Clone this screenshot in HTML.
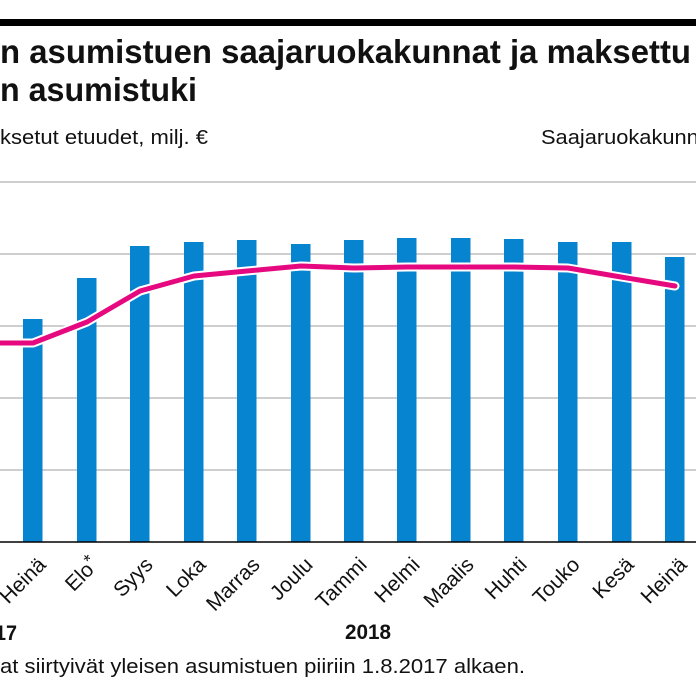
<!DOCTYPE html>
<html><head><meta charset="utf-8">
<style>
html,body{margin:0;padding:0;background:#fff;}
svg{display:block;}
text{font-family:"Liberation Sans","DejaVu Sans",sans-serif;fill:#111;}
</style></head>
<body>
<svg width="696" height="696" viewBox="0 0 696 696" xmlns="http://www.w3.org/2000/svg">
<rect x="0" y="0" width="696" height="696" fill="#fff"/>
<rect x="0" y="19" width="696" height="7" fill="#000"/>
<text x="0" y="63" font-size="33" font-weight="bold" textLength="691" lengthAdjust="spacingAndGlyphs">n asumistuen saajaruokakunnat ja maksettu</text>
<text x="0" y="101" font-size="33" font-weight="bold" textLength="197" lengthAdjust="spacingAndGlyphs">n asumistuki</text>
<text x="0" y="144" font-size="20" textLength="208" lengthAdjust="spacingAndGlyphs">ksetut etuudet, milj. €</text>
<text x="541" y="144" font-size="20" textLength="176" lengthAdjust="spacingAndGlyphs">Saajaruokakunnat</text>

<g stroke="#bdbdbd" stroke-width="1.5">
<line x1="0" y1="182" x2="696" y2="182"/>
<line x1="0" y1="254" x2="696" y2="254"/>
<line x1="0" y1="326" x2="696" y2="326"/>
<line x1="0" y1="398" x2="696" y2="398"/>
<line x1="0" y1="470" x2="696" y2="470"/>
</g>

<g fill="#0784d0">
<rect x="23" y="319" width="19.5" height="223"/>
<rect x="77" y="278" width="19.5" height="264"/>
<rect x="130" y="246" width="19.5" height="296"/>
<rect x="184" y="242" width="19.5" height="300"/>
<rect x="237" y="240" width="19.5" height="302"/>
<rect x="291" y="244" width="19.5" height="298"/>
<rect x="344" y="240" width="19.5" height="302"/>
<rect x="397" y="238" width="19.5" height="304"/>
<rect x="451" y="238" width="19.5" height="304"/>
<rect x="504" y="239" width="19.5" height="303"/>
<rect x="558" y="242" width="19.5" height="300"/>
<rect x="612" y="242" width="19.5" height="300"/>
<rect x="665" y="257" width="19.5" height="285"/>
</g>

<line x1="0" y1="542" x2="696" y2="542" stroke="#000" stroke-width="1.6"/>

<polyline points="-30,343 33,343 87,322 140,291 194,276 247,271 301,266 354,268 407,267 461,267 514,267 568,268 621,277 675,286" fill="none" stroke="#fff" stroke-width="9" stroke-linejoin="round" stroke-linecap="round"/>
<polyline points="-30,343 33,343 87,322 140,291 194,276 247,271 301,266 354,268 407,267 461,267 514,267 568,268 621,277 675,286" fill="none" stroke="#e5087f" stroke-width="5" stroke-linejoin="round" stroke-linecap="round"/>

<g font-size="21" text-anchor="end">
<text transform="translate(47,566) rotate(-45)">Heinä</text>
<text transform="translate(100,566) rotate(-45)">Elo<tspan dy="-6" font-size="18">*</tspan></text>
<text transform="translate(154,566) rotate(-45)">Syys</text>
<text transform="translate(207,566) rotate(-45)">Loka</text>
<text transform="translate(261,566) rotate(-45)">Marras</text>
<text transform="translate(314,566) rotate(-45)">Joulu</text>
<text transform="translate(368,566) rotate(-45)">Tammi</text>
<text transform="translate(421,566) rotate(-45)">Helmi</text>
<text transform="translate(475,566) rotate(-45)">Maalis</text>
<text transform="translate(528,566) rotate(-45)">Huhti</text>
<text transform="translate(581,566) rotate(-45)">Touko</text>
<text transform="translate(635,566) rotate(-45)">Kesä</text>
<text transform="translate(688,566) rotate(-45)">Heinä</text>
</g>

<text x="-5" y="640" font-size="21" font-weight="bold" textLength="22" lengthAdjust="spacingAndGlyphs">17</text>
<text x="345" y="639" font-size="21" font-weight="bold" textLength="46" lengthAdjust="spacingAndGlyphs">2018</text>
<text x="0" y="673" font-size="20" textLength="525" lengthAdjust="spacingAndGlyphs">at siirtyivät yleisen asumistuen piiriin 1.8.2017 alkaen.</text>
</svg>
</body></html>
